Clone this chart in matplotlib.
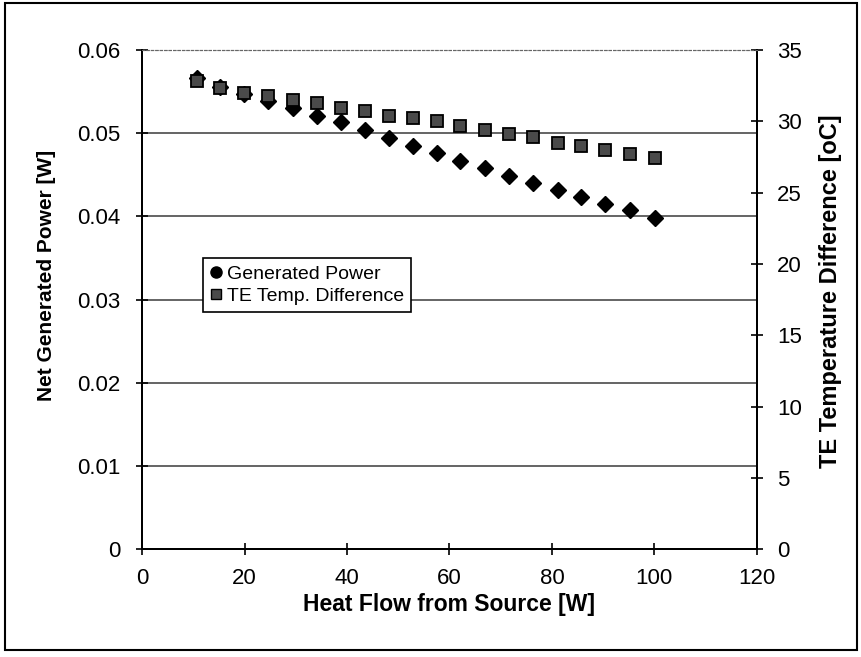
import matplotlib.pyplot as plt
from matplotlib.lines import Line2D
from matplotlib.patches import Rectangle

plt.rcParams['font.family'] = ['Liberation Sans', 'DejaVu Sans']

# heat flow from source [W]
heat_flow = [10.7, 15.2, 19.9, 24.6, 29.5, 34.1, 38.8, 43.5, 48.2, 52.9,
             57.6, 62.0, 66.9, 71.6, 76.3, 81.2, 85.7, 90.3, 95.2, 100.1]
# net generated power [W]
power = [0.0566, 0.0555, 0.0547, 0.0539, 0.0530, 0.0521, 0.0513, 0.0504, 0.0494, 0.0485,
         0.0476, 0.0466, 0.0458, 0.0448, 0.0440, 0.0432, 0.0423, 0.0415, 0.0408, 0.0398]
# TE temperature difference [oC]
temp_diff = [32.8, 32.3, 32.0, 31.8, 31.5, 31.3, 30.9, 30.7, 30.4, 30.2,
             30.0, 29.7, 29.4, 29.1, 28.9, 28.5, 28.3, 28.0, 27.7, 27.4]

x_ticks = [0, 20, 40, 60, 80, 100, 120]
left_ticks = [0, 0.01, 0.02, 0.03, 0.04, 0.05, 0.06]
left_labels = ['0', '0.01', '0.02', '0.03', '0.04', '0.05', '0.06']
right_ticks = [0, 5, 10, 15, 20, 25, 30, 35]

fig = plt.figure(figsize=(8.61, 6.57), dpi=100)
ax = fig.add_axes([0.165, 0.164, 0.714, 0.760])

# horizontal grid from the left axis
for t in left_ticks[1:-1]:
    ax.axhline(t, color='#3a3a3a', lw=1.1, zorder=0)

ax.plot(heat_flow, power, linestyle='none', marker='D', markersize=8.5,
        color='black', zorder=3)
ax.set_xlim(0, 120)
ax.set_ylim(0, 0.06)
ax.set_xticks(x_ticks)
ax.set_yticks(left_ticks)
ax.set_yticklabels(left_labels)
ax.tick_params(direction='inout', length=9, width=1.2, labelsize=16)
ax.tick_params(axis='x', pad=9)
ax.tick_params(axis='y', pad=11)
ax.set_xlabel('Heat Flow from Source [W]', fontsize=16.5, fontweight='bold', labelpad=3)
ax.set_ylabel('Net Generated Power [W]', fontsize=15, fontweight='bold')
ax.yaxis.label.set_va('center')
ax.yaxis.set_label_coords(-0.155, 0.549)

ax2 = ax.twinx()
ax2.plot(heat_flow, temp_diff, linestyle='none', marker='s', markersize=8,
         markerfacecolor='#4a4a4a', markeredgecolor='black', markeredgewidth=1.3, zorder=3)
ax2.set_ylim(0, 35)
ax2.set_yticks(right_ticks)
ax2.tick_params(direction='inout', length=9, width=1.2, labelsize=16, pad=10)
ax2.set_ylabel('TE Temperature Difference [oC]', fontsize=17, fontweight='bold')
ax2.yaxis.label.set_va('center')
ax2.yaxis.set_label_coords(1.12, 0.517)

for a in (ax, ax2):
    a.spines['top'].set_linestyle((0, (2, 2)))
    a.spines['top'].set_color('#666666')
    for s in ('left', 'right', 'bottom'):
        a.spines[s].set_linewidth(1.4)

handles = [
    Line2D([], [], linestyle='none', marker='o', markersize=8, color='black'),
    Line2D([], [], linestyle='none', marker='s', markersize=7,
           markerfacecolor='#4a4a4a', markeredgecolor='black'),
]
leg = ax2.legend(handles, ['Generated Power', 'TE Temp. Difference'],
                 loc='lower left', bbox_to_anchor=(0.099, 0.475),
                 fontsize=14, frameon=True, fancybox=False, framealpha=1,
                 edgecolor='black', handlelength=0.6, handletextpad=0.3,
                 borderpad=0.35, labelspacing=0.25, borderaxespad=0)
leg.get_frame().set_linewidth(1.2)

# outer border of the scanned figure
fig.patches.append(Rectangle((0.006, 0.01), 0.989, 0.986, transform=fig.transFigure,
                             fill=False, edgecolor='black', lw=1.5))

fig.savefig('out.png', dpi=100)
